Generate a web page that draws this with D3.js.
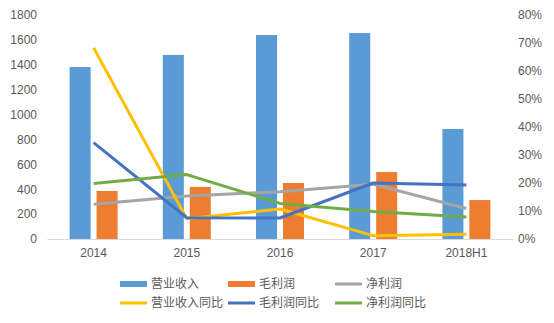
<!DOCTYPE html>
<html><head><meta charset="utf-8">
<script src="https://cdn.jsdelivr.net/npm/d3@7"></script>
<style>body{margin:0;background:#fff;}svg{display:block;font-family:"Noto Sans CJK SC","Noto Sans",sans-serif;}</style>
</head><body>
<svg id="c" width="554" height="323"></svg>
<script>
const categories = ["2014","2015","2016","2017","2018H1"];
const revenue = [1382, 1479, 1639, 1655, 884];
const grossProfit = [386, 418, 450, 538, 313];
const netProfit = [279, 345, 380, 440, 245];
const revenueYoY = [0.683, 0.072, 0.107, 0.012, 0.017];
const grossYoY = [0.344, 0.076, 0.075, 0.200, 0.193];
const netYoY = [0.198, 0.230, 0.127, 0.098, 0.079];
const leftTicks = [0,200,400,600,800,1000,1200,1400,1600,1800];
const rightTicks = [0,0.1,0.2,0.3,0.4,0.5,0.6,0.7,0.8];

const svg = d3.select("#c");
const L = 47, R = 513, T = 15, B = 239;
const x = d3.scaleBand().domain(categories).range([L, R]);
const yL = d3.scaleLinear().domain([0,1800]).range([B, T]);
const yR = d3.scaleLinear().domain([0,0.8]).range([B, T]);
const inner = d3.scaleBand().domain(["rev","gp"]).range([-24, 24]).paddingInner(0.22);
const txt = "#595959";

// left axis
const gl = svg.append("g").attr("transform", `translate(${L},0)`)
  .call(d3.axisLeft(yL).tickValues(leftTicks).tickSize(0).tickPadding(10).tickFormat(d3.format("d")));
gl.select(".domain").remove();
gl.selectAll("text").attr("fill", txt).style("font-size","12px").style("font-family","inherit");

// right axis
const gr = svg.append("g").attr("transform", `translate(${R},0)`)
  .call(d3.axisRight(yR).tickValues(rightTicks).tickSize(0).tickPadding(5).tickFormat(d3.format(".0%")));
gr.select(".domain").remove();
gr.selectAll("text").attr("fill", txt).style("font-size","12px").style("font-family","inherit");

// bars
const cx = c => x(c) + x.bandwidth()/2;
svg.append("g").selectAll("rect.rev").data(categories).join("rect")
  .attr("x", (c) => cx(c) + inner("rev")).attr("width", inner.bandwidth())
  .attr("y", (c,i) => yL(revenue[i])).attr("height", (c,i) => B - yL(revenue[i]))
  .attr("fill", "#5B9BD5");
svg.append("g").selectAll("rect.gp").data(categories).join("rect")
  .attr("x", (c) => cx(c) + inner("gp")).attr("width", inner.bandwidth())
  .attr("y", (c,i) => yL(grossProfit[i])).attr("height", (c,i) => B - yL(grossProfit[i]))
  .attr("fill", "#ED7D31");

// x axis
const gx = svg.append("g").attr("transform", `translate(0,${B})`)
  .call(d3.axisBottom(x).tickSize(0).tickPadding(9));
gx.select(".domain").attr("stroke", "#D9D9D9");
gx.selectAll("text").attr("fill", txt).style("font-size","12px").style("font-family","inherit");

// lines
function drawLine(vals, yScale, color) {
  const line = d3.line().x((d,i) => cx(categories[i])).y(d => yScale(d));
  svg.append("path").datum(vals).attr("d", line).attr("fill","none")
    .attr("stroke", color).attr("stroke-width", 3).attr("stroke-linejoin","round").attr("stroke-linecap","butt");
}
drawLine(netProfit, yL, "#A5A5A5");
drawLine(revenueYoY, yR, "#FFC000");
drawLine(grossYoY, yR, "#4472C4");
drawLine(netYoY, yR, "#70AD47");

// legend
const legend = [
  {name:"营业收入", color:"#5B9BD5", type:"bar", col:0, row:0},
  {name:"毛利润", color:"#ED7D31", type:"bar", col:1, row:0},
  {name:"净利润", color:"#A5A5A5", type:"line", col:2, row:0},
  {name:"营业收入同比", color:"#FFC000", type:"line", col:0, row:1},
  {name:"毛利润同比", color:"#4472C4", type:"line", col:1, row:1},
  {name:"净利润同比", color:"#70AD47", type:"line", col:2, row:1}
];
const colX = [120, 228, 335], rowY = [284, 303];
const lg = svg.append("g");
legend.forEach(d => {
  const g = lg.append("g").attr("transform", `translate(${colX[d.col]},${rowY[d.row]})`);
  if (d.type === "bar") g.append("rect").attr("x",0).attr("y",-3).attr("width",27).attr("height",6).attr("fill",d.color);
  else g.append("line").attr("x1",0).attr("x2",27).attr("y1",0).attr("y2",0).attr("stroke",d.color).attr("stroke-width",3);
  g.append("text").attr("x",31).attr("y",0).attr("dy","0.35em").attr("fill",txt).style("font-size","12px").text(d.name);
});
</script>
</body></html>
